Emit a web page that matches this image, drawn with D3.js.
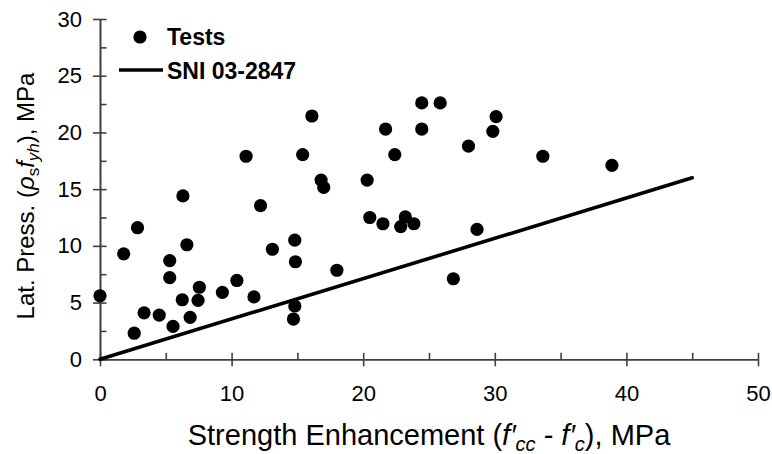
<!DOCTYPE html>
<html lang="en">
<head>
    <meta charset="UTF-8">
    <title>Lateral pressure vs strength enhancement</title>
    <script src="https://cdn.jsdelivr.net/npm/d3@7/dist/d3.min.js"></script>
    <style>
        body { margin: 0; background: #fff; }
        text { font-family: "Liberation Sans", Arial, sans-serif; }
    </style>
</head>
<body>
    <svg width="772" height="454"></svg>
</body>
</html>
<script>
   // test points: strength enhancement (MPa) vs lateral pressure (MPa)
   var testX = [0, 1.8, 2.85, 2.6, 3.35, 4.5, 5.3, 5.3, 5.55, 6.25, 6.6, 6.85, 7.55, 7.45,
                9.3, 10.4, 11.7, 13.1, 14.8, 14.85, 14.8, 14.7, 18.0, 11.1, 15.4, 6.3, 12.2,
                16.1, 21.7, 22.4, 16.8, 17.0, 20.3, 20.5, 21.5, 24.45, 25.85, 24.45, 30.1,
                29.85, 28.0, 33.65, 38.9, 23.2, 22.85, 23.85, 28.65, 26.85];
   var testY = [5.6, 9.3, 11.6, 2.3, 4.1, 3.9, 8.7, 7.2, 2.9, 5.25, 10.1, 3.7, 6.35, 5.2,
                5.9, 6.95, 5.5, 9.7, 10.5, 8.6, 4.7, 3.55, 7.85, 17.9, 18.05, 14.4, 13.55,
                21.45, 20.3, 18.05, 15.8, 15.15, 15.8, 12.5, 11.95, 22.6, 22.6, 20.3, 21.4,
                20.1, 18.8, 17.9, 17.1, 12.55, 11.7, 11.95, 11.45, 7.1];
   // SNI 03-2847 line
   var sniX = [0, 45];
   var sniY = [0, 16];
   // ticks
   var xMajor = [0, 10, 20, 30, 40, 50];
   var xMinor = [0, 5, 10, 15, 20, 25, 30, 35, 40, 45, 50];
   var yMajor = [0, 5, 10, 15, 20, 25, 30];
   var yMinor = [0, 2.5, 5, 7.5, 10, 12.5, 15, 17.5, 20, 22.5, 25, 27.5, 30];

   var svg = d3.select('svg');
   var x = d3.scaleLinear().domain([0, 50]).range([100, 758]);
   var y = d3.scaleLinear().domain([0, 30]).range([359.3, 19]);

   var axisColor = '#404040';
   function styleAxis(g){
   	g.select('.domain').attr('stroke', axisColor).attr('stroke-width', 1.6);
   	g.selectAll('.tick line').attr('stroke', axisColor).attr('stroke-width', 1.6);
   	g.selectAll('.tick text').attr('fill', '#000')
   		.style('font-size', '22px');
   }

   // x axis: outside part of major ticks with labels, inside part on all ticks
   svg.append('g').attr('transform', 'translate(0,' + y(0) + ')')
   	.call(d3.axisBottom(x).tickValues(xMajor).tickSizeInner(7).tickSizeOuter(0).tickPadding(19))
   	.call(styleAxis);
   svg.append('g').attr('transform', 'translate(0,' + y(0) + ')')
   	.call(d3.axisTop(x).tickValues(xMinor).tickSizeInner(6.5).tickSizeOuter(0).tickFormat(''))
   	.call(styleAxis);

   // y axis
   svg.append('g').attr('transform', 'translate(' + x(0) + ',0)')
   	.call(d3.axisLeft(y).tickValues(yMajor).tickSizeInner(7).tickSizeOuter(0).tickPadding(11))
   	.call(styleAxis);
   svg.append('g').attr('transform', 'translate(' + x(0) + ',0)')
   	.call(d3.axisRight(y).tickValues(yMinor).tickSizeInner(6.5).tickSizeOuter(0).tickFormat(''))
   	.call(styleAxis);

   // SNI line
   var line = d3.line()
   	.x(function(d){ return x(d[0]); })
   	.y(function(d){ return y(d[1]); });
   svg.append('path')
   	.datum(d3.zip(sniX, sniY))
   	.attr('d', line)
   	.attr('fill', 'none')
   	.attr('stroke', '#000')
   	.attr('stroke-width', 3.6)
   	.attr('stroke-linecap', 'round');

   // test points
   svg.append('g').selectAll('circle')
   	.data(d3.zip(testX, testY))
   	.enter().append('circle')
   	.attr('cx', function(d){ return x(d[0]); })
   	.attr('cy', function(d){ return y(d[1]); })
   	.attr('r', 6.6)
   	.attr('fill', '#000');

   // legend
   var legend = svg.append('g');
   legend.append('circle').attr('cx', 140).attr('cy', 37).attr('r', 6.6).attr('fill', '#000');
   legend.append('text').attr('x', 167).attr('y', 45)
   	.style('font-size', '23px').style('font-weight', 'bold').text('Tests');
   legend.append('line').attr('x1', 119).attr('x2', 163).attr('y1', 70).attr('y2', 70)
   	.attr('stroke', '#000').attr('stroke-width', 3.6);
   legend.append('text').attr('x', 167).attr('y', 78.5)
   	.style('font-size', '23px').style('font-weight', 'bold').text('SNI 03-2847');

   // x axis title
   var xt = svg.append('text')
   	.attr('x', 429).attr('y', 445)
   	.attr('text-anchor', 'middle')
   	.style('font-size', '29px');
   xt.append('tspan').text('Strength Enhancement (');
   xt.append('tspan').style('font-style', 'italic').text('f\u2032');
   xt.append('tspan').style('font-style', 'italic').style('font-size', '20px').attr('dy', 6).text('cc');
   xt.append('tspan').attr('dy', -6).text(' - ');
   xt.append('tspan').style('font-style', 'italic').text('f\u2032');
   xt.append('tspan').style('font-style', 'italic').style('font-size', '20px').attr('dy', 6).text('c');
   xt.append('tspan').attr('dy', -6).text('), MPa');

   // y axis title
   var yt = svg.append('text')
   	.attr('transform', 'translate(34,196) rotate(-90)')
   	.attr('text-anchor', 'middle')
   	.style('font-size', '24px');
   yt.append('tspan').text('Lat. Press. (');
   yt.append('tspan').style('font-style', 'italic').text('\u03c1');
   yt.append('tspan').style('font-size', '17px').attr('dy', 5).text('s');
   yt.append('tspan').style('font-style', 'italic').attr('dy', -5).text('f');
   yt.append('tspan').style('font-style', 'italic').style('font-size', '17px').attr('dy', 5).text('yh');
   yt.append('tspan').attr('dy', -5).text('), MPa');
</script>
